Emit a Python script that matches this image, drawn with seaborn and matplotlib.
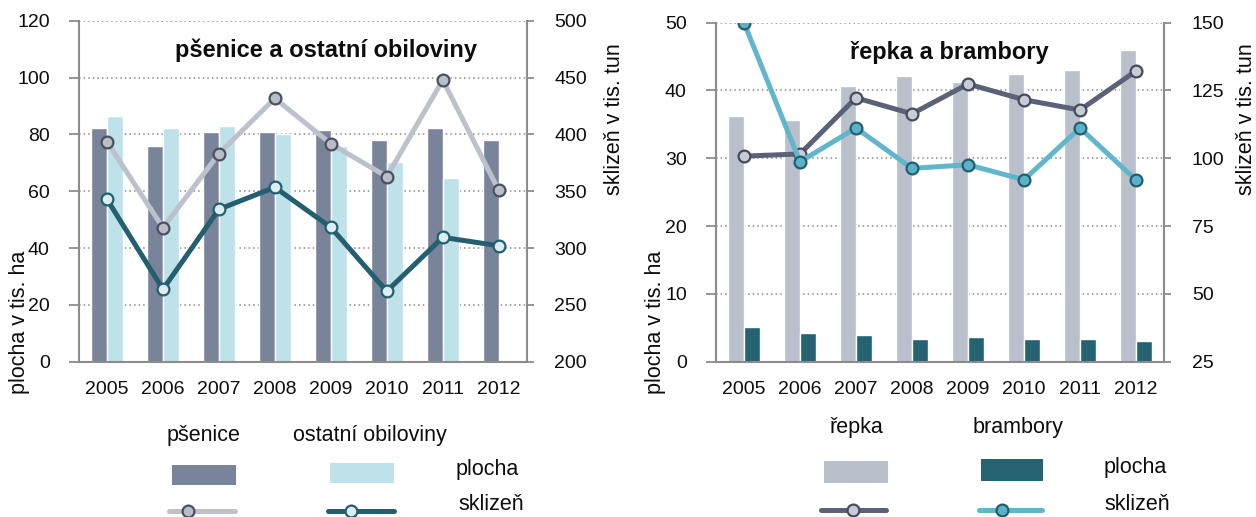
import numpy as np
import pandas as pd
import matplotlib
matplotlib.use("Agg")
import matplotlib.pyplot as plt
import seaborn as sns
from matplotlib.patches import Rectangle
from matplotlib.lines import Line2D

# ---- data -------------------------------------------------------------
years = ["2005", "2006", "2007", "2008", "2009", "2010", "2011", "2012"]

psenice_plocha = [82.3, 76.0, 80.8, 80.8, 81.5, 78.0, 82.3, 78.0]
obiloviny_plocha = [86.5, 82.3, 82.9, 80.1, 75.9, 70.3, 64.6, np.nan]
psenice_sklizen = [393.5, 317.9, 383.0, 431.7, 391.8, 362.8, 447.8, 350.8]
obiloviny_sklizen = [342.9, 263.7, 334.1, 353.4, 318.2, 262.0, 309.4, 302.0]

repka_plocha = [36.2, 35.6, 40.7, 42.1, 41.3, 42.4, 43.0, 46.0]
brambory_plocha = [5.1, 4.3, 4.0, 3.4, 3.6, 3.35, 3.35, 3.05]
repka_sklizen = [100.8, 101.6, 122.3, 116.4, 127.4, 121.6, 117.8, 132.2]
brambory_sklizen = [150.0, 98.7, 111.2, 96.3, 97.6, 92.1, 111.2, 92.0]

# ---- style ------------------------------------------------------------
sns.set_theme(style="white")
plt.rcParams["font.family"] = ["Liberation Sans", "DejaVu Sans"]

W, H = 1256, 517
fig = plt.figure(figsize=(W / 100, H / 100), dpi=100)

SPINE = "#8c8c8c"
GRID = "#8a8a8a"
TEXT = "#0d0d0d"
TICK_FS = 14
TITLE_FS = 17
LAB_FS = 15.5
LEG_FS = 15.5


def px(x, y):
    return x / W, 1 - y / H


def panel(rect, left_vals, right_vals, names, bar_colors, left_lim, left_ticks,
          sk_a, sk_b, right_lim, right_ticks, line_styles, title, title_xy):
    ax = fig.add_axes(rect)
    df = pd.DataFrame({
        "rok": years * 2,
        "plodina": [names[0]] * 8 + [names[1]] * 8,
        "plocha": list(left_vals) + list(right_vals),
    }).dropna()
    sns.barplot(data=df, x="rok", y="plocha", hue="plodina", order=years,
                hue_order=names, palette=bar_colors, width=0.57, dodge=True,
                saturation=1, legend=False, ax=ax, zorder=2)
    ax.set_ylim(*left_lim)
    ax.set_yticks(left_ticks)
    ax.set_xlim(-0.5, 7.5)
    ax.yaxis.grid(True, linestyle=(0, (1, 2)), color=GRID, linewidth=1.1)
    ax.set_axisbelow(True)
    ax.set_xlabel("")
    ax.set_ylabel("")
    for s in ["top", "right"]:
        ax.spines[s].set_visible(False)
    for s in ["left", "bottom"]:
        ax.spines[s].set_color(SPINE)
        ax.spines[s].set_linewidth(1.5)
    ax.set_xticks(np.arange(-0.5, 8.0, 1.0), minor=True)
    ax.tick_params(axis="x", which="major", length=0, pad=14, labelsize=TICK_FS,
                   labelcolor=TEXT)
    ax.tick_params(axis="x", which="minor", length=6, width=1.3, color=SPINE,
                   direction="out")
    ax.tick_params(axis="y", length=7, width=1.3, color=SPINE, direction="out",
                   pad=14, labelsize=TICK_FS, left=True, labelcolor=TEXT)

    ax2 = ax.twinx()
    for vals, st in zip([sk_a, sk_b], line_styles):
        sns.lineplot(x=np.arange(8), y=vals, ax=ax2, color=st["line"],
                     linewidth=3.6, marker="o", markersize=8.5,
                     markerfacecolor=st["face"], markeredgecolor=st["edge"],
                     markeredgewidth=1.6, zorder=3)
    ax2.set_ylim(*right_lim)
    ax2.set_yticks(right_ticks)
    ax2.set_xlim(-0.5, 7.5)
    ax2.set_ylabel("")
    for s in ["top", "left", "bottom"]:
        ax2.spines[s].set_visible(False)
    ax2.spines["right"].set_color(SPINE)
    ax2.spines["right"].set_linewidth(1.5)
    ax2.tick_params(axis="y", length=5, width=1.3, color=SPINE, direction="out",
                    pad=15, labelsize=TICK_FS, right=True, labelcolor=TEXT)
    ax2.grid(False)

    fig.text(*px(*title_xy), title, ha="center", va="center",
             fontsize=TITLE_FS, fontweight="bold", color=TEXT)
    return ax, ax2


# ---- left panel: wheat and other cereals ------------------------------
left_styles = [
    dict(line="#bcc1cc", face="#b9bdc7", edge="#4b5060"),
    dict(line="#235f6e", face="#dcedf2", edge="#235f6e"),
]
panel([79 / W, 1 - 361.7 / H, 447.7 / W, 341 / H],
      psenice_plocha, obiloviny_plocha, ["pšenice", "ostatní obiloviny"],
      ["#79839a", "#bee1ea"], (0, 120), np.arange(0, 121, 20),
      psenice_sklizen, obiloviny_sklizen, (200, 500), np.arange(200, 501, 50),
      left_styles, "pšenice a ostatní obiloviny", (326, 50))

# ---- right panel: rapeseed and potatoes -------------------------------
right_styles = [
    dict(line="#5b6177", face="#c8ccd5", edge="#454b5e"),
    dict(line="#62b6cb", face="#5ab2c9", edge="#245e6e"),
]
panel([716 / W, 1 - 361.7 / H, 448 / W, 339 / H],
      repka_plocha, brambory_plocha, ["řepka", "brambory"],
      ["#b9bfcb", "#256272"], (0, 50), np.arange(0, 51, 10),
      repka_sklizen, brambory_sklizen, (25, 150), np.arange(25, 151, 25),
      right_styles, "řepka a brambory", (949, 53))

# ---- axis titles ------------------------------------------------------
for x, y, t in [(20, 322, "plocha v tis. ha"), (614, 119, "sklizeň v tis. tun"),
                (656, 322, "plocha v tis. ha"), (1246, 119, "sklizeň v tis. tun")]:
    fig.text(*px(x, y), t, rotation=90, ha="center", va="center",
             fontsize=LAB_FS, color=TEXT)


# ---- legends ----------------------------------------------------------
def legend(names_xy, patches, lines, plocha_xy, sklizen_xy, bar_colors, styles):
    for (x, y), t in names_xy:
        fig.text(*px(x, y), t, ha="center", va="center", fontsize=LEG_FS,
                 color=TEXT)
    for (x0, y0, x1, y1), c in zip(patches, bar_colors):
        fig.add_artist(Rectangle(px(x0, y1), (x1 - x0) / W, (y1 - y0) / H,
                                 transform=fig.transFigure, facecolor=c,
                                 edgecolor="none"))
    for (x0, x1, y, xm), st in zip(lines, styles):
        fig.add_artist(Line2D([x0 / W, x1 / W], [1 - y / H, 1 - y / H],
                              transform=fig.transFigure, color=st["line"],
                              linewidth=3.6, solid_capstyle="round"))
        fig.add_artist(Line2D([xm / W], [1 - y / H], transform=fig.transFigure,
                              marker="o", markersize=8.5, linestyle="none",
                              markerfacecolor=st["face"],
                              markeredgecolor=st["edge"], markeredgewidth=1.6))
    fig.text(*px(*plocha_xy), "plocha", ha="left", va="center", fontsize=LEG_FS,
             color=TEXT)
    fig.text(*px(*sklizen_xy), "sklizeň", ha="left", va="center",
             fontsize=LEG_FS, color=TEXT)


legend([((203, 436), "pšenice"), ((370, 435), "ostatní obiloviny")],
       [(172, 465, 236, 485), (330, 463, 394, 483)],
       [(169, 235, 511, 187.5), (328, 394, 511, 350.6)],
       (456, 470), (458, 505), ["#79839a", "#bee1ea"], left_styles)

legend([((856, 428), "řepka"), ((1018, 428), "brambory")],
       [(824, 461, 888, 483), (981, 459, 1043, 481)],
       [(821, 886, 510, 853), (979, 1042, 510, 1001.5)],
       (1104, 467), (1104, 505), ["#b9bfcb", "#256272"], right_styles)

fig.savefig("out.png", dpi=100, facecolor="white")
